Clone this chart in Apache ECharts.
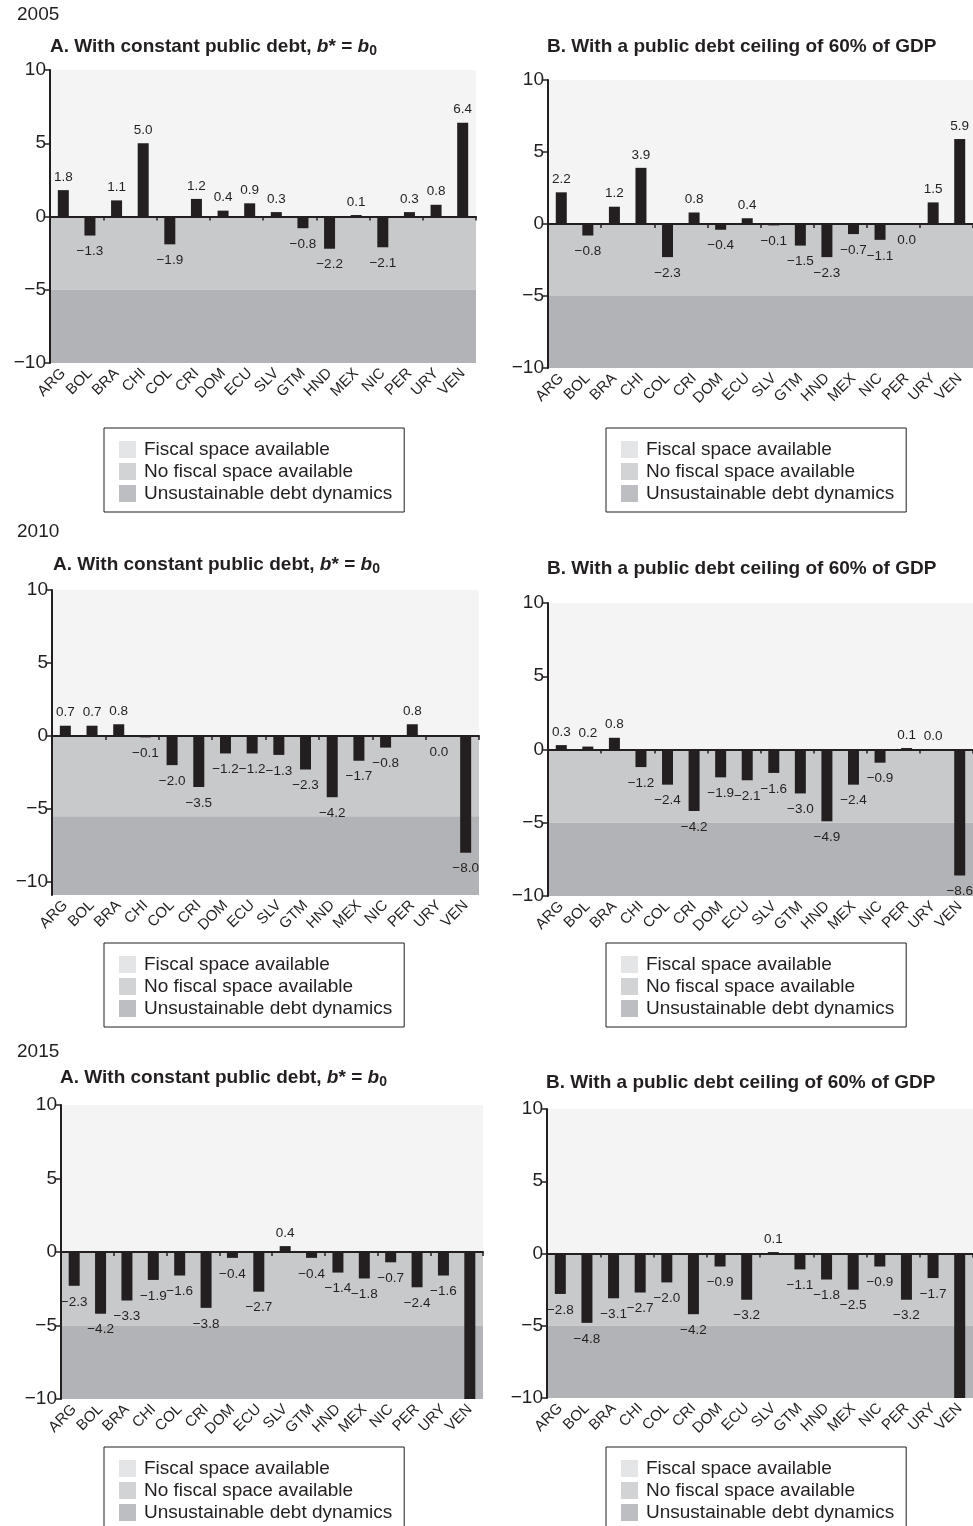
<!DOCTYPE html>
<html><head><meta charset="utf-8">
<script src="https://cdn.jsdelivr.net/npm/echarts@6/dist/echarts.min.js"></script>
<style>html,body{margin:0;padding:0;background:#fff}#c{width:973px;height:1526px}</style>
</head><body><div id="c"></div>
<script>
// ---------- DATA ----------
const countries = ['ARG','BOL','BRA','CHI','COL','CRI','DOM','ECU','SLV','GTM','HND','MEX','NIC','PER','URY','VEN'];
const years = ['2005','2010','2015'];
const yTickValues = [-10, -5, 0, 5, 10];
const bandNames = ['Fiscal space available','No fiscal space available','Unsustainable debt dynamics'];
// -0 marks a "0.0" whose label sits below the axis in the source
const v2005A = [1.8,-1.3,1.1,5.0,-1.9,1.2,0.4,0.9,0.3,-0.8,-2.2,0.1,-2.1,0.3,0.8,6.4];
const v2005B = [2.2,-0.8,1.2,3.9,-2.3,0.8,-0.4,0.4,-0.1,-1.5,-2.3,-0.7,-1.1,-0,1.5,5.9];
const v2010A = [0.7,0.7,0.8,-0.1,-2.0,-3.5,-1.2,-1.2,-1.3,-2.3,-4.2,-1.7,-0.8,0.8,-0,-8.0];
const v2010B = [0.3,0.2,0.8,-1.2,-2.4,-4.2,-1.9,-2.1,-1.6,-3.0,-4.9,-2.4,-0.9,0.1,0.0,-8.6];
const v2015A = [-2.3,-4.2,-3.3,-1.9,-1.6,-3.8,-0.4,-2.7,0.4,-0.4,-1.4,-1.8,-0.7,-2.4,-1.6,-10];
const v2015B = [-2.8,-4.8,-3.1,-2.7,-2.0,-4.2,-0.9,-3.2,0.1,-1.1,-1.8,-2.5,-0.9,-3.2,-1.7,-10];
// zone boundaries (upper limit of the "unsustainable" zone) and axis minimum per panel
const unsustainableLimit = [-5, -5, -5.5, -5, -5, -5];
const axisMin = [-10, -10, -10.9, -10, -10, -10];
const axisMax = 10;

// ---------- STYLE / LAYOUT ----------
const FONT = '"Liberation Sans", Arial, Helvetica, sans-serif';
const INK = '#231f20';
const bandColors = ['#f3f4f3', '#c8c9cb', '#b2b3b6'];
const legendColors = ['#dddee0', '#c7c8ca', '#adaeb1'];
const titleA = 'A. With constant public debt, {it|b}* = {it|b}{sub|0}';
const titleB = 'B. With a public debt ceiling of 60% of GDP';

const panels = [
  {vals: v2005A, title: titleA, grid: {left: 50, top: 70, width: 426, height: 293}, tx: 50, ty: 36, lx: 104, ly: 428},
  {vals: v2005B, title: titleB, grid: {left: 548, top: 80, width: 425, height: 288}, tx: 547, ty: 36, lx: 606, ly: 428},
  {vals: v2010A, title: titleA, grid: {left: 52, top: 590, width: 427, height: 305}, tx: 53, ty: 554, lx: 104, ly: 943},
  {vals: v2010B, title: titleB, grid: {left: 548, top: 603, width: 425, height: 293}, tx: 547, ty: 558, lx: 606, ly: 943},
  {vals: v2015A, title: titleA, grid: {left: 61, top: 1105, width: 422, height: 294}, tx: 60, ty: 1067, lx: 104, ly: 1447},
  {vals: v2015B, title: titleB, grid: {left: 547, top: 1109, width: 426, height: 289}, tx: 546, ty: 1072, lx: 606, ly: 1447}
];
const yearTops = [5, 522, 1042];

function fmt(v) { const s = v.toFixed(1); return s.charAt(0) === '-' ? '\u2212' + s.slice(1) : s; }
function tickFmt(v) { return v < 0 ? '\u2212' + Math.abs(v) : String(v); }

const option = {
  animation: false,
  backgroundColor: '#fff',
  textStyle: {fontFamily: FONT},
  title: [], grid: [], xAxis: [], yAxis: [], series: [], legend: []
};

years.forEach((y, i) => {
  option.title.push({
    text: y, left: 17, top: yearTops[i], padding: 0,
    textStyle: {fontFamily: FONT, fontSize: 19, fontWeight: 'normal', color: INK}
  });
});

panels.forEach((p, i) => {
  option.title.push({
    text: p.title, left: p.tx, top: p.ty, padding: 0,
    textStyle: {
      fontFamily: FONT, fontSize: 19, fontWeight: 'bold', color: INK, lineHeight: 22,
      rich: {
        it: {fontFamily: FONT, fontSize: 19, fontWeight: 'bold', fontStyle: 'italic', color: INK, lineHeight: 22},
        sub: {fontFamily: FONT, fontSize: 14, fontWeight: 'bold', color: INK, lineHeight: 14, verticalAlign: 'bottom'}
      }
    }
  });
  option.grid.push(Object.assign({containLabel: false, outerBoundsMode: 'none'}, p.grid));
  // x axis drawn on the zero line (line + ticks)
  option.xAxis.push({
    type: 'category', gridIndex: i, data: countries, z: 4,
    axisLine: {onZero: true, lineStyle: {color: INK, width: 2}},
    axisTick: {show: true, length: 4, lineStyle: {color: INK, width: 1.5}},
    axisLabel: {show: false}, splitLine: {show: false}
  });
  // x axis at bottom (labels only)
  option.xAxis.push({
    type: 'category', gridIndex: i, data: countries, position: 'bottom', z: 4,
    axisLine: {show: false, onZero: false}, axisTick: {show: false},
    axisLabel: {rotate: 45, margin: 8, fontSize: 15, color: INK, fontFamily: FONT, interval: 0}
  });
  const yAx = {
    type: 'value', gridIndex: i, min: axisMin[i], max: axisMax, z: 4,
    axisLine: {show: true, lineStyle: {color: INK, width: 2}},
    axisTick: {show: true, length: 5, lineStyle: {color: INK, width: 1.5}},
    axisLabel: {fontSize: 19, color: INK, fontFamily: FONT, margin: 4, formatter: tickFmt},
    splitLine: {show: false}
  };
  if (axisMin[i] % 5 === 0) { yAx.interval = 5; }
  else { yAx.axisLabel.customValues = yTickValues; yAx.axisTick.customValues = yTickValues; }
  option.yAxis.push(yAx);

  const vals = p.vals;
  option.series.push({
    type: 'bar', xAxisIndex: 2 * i, yAxisIndex: i, z: 3,
    barWidth: 11,
    itemStyle: {color: INK},
    data: vals.map(v => {
      const up = (v > 0 || Object.is(v, 0));
      return {value: v, label: {position: up ? 'top' : 'bottom', distance: up ? 6 : 9}};
    }),
    label: {
      show: true, fontSize: 13.5, color: INK, fontFamily: FONT,
      formatter: (prm) => { const v = vals[prm.dataIndex]; return v <= axisMin[i] ? '' : fmt(v); }
    },
    markArea: {
      silent: true,
      label: {show: false},
      data: [
        [{yAxis: 0, itemStyle: {color: bandColors[0]}}, {yAxis: axisMax}],
        [{yAxis: unsustainableLimit[i], itemStyle: {color: bandColors[1]}}, {yAxis: 0}],
        [{yAxis: axisMin[i], itemStyle: {color: bandColors[2]}}, {yAxis: unsustainableLimit[i]}]
      ]
    }
  });

  option.legend.push({
    left: p.lx, top: p.ly, height: 90, orient: 'vertical', selectedMode: false,
    icon: 'rect', itemWidth: 17, itemHeight: 17, itemGap: 3,
    padding: [12, 12, 9, 15],
    borderColor: INK, borderWidth: 1, backgroundColor: '#fff',
    textStyle: {fontSize: 19, color: INK, fontFamily: FONT, padding: [0, 0, 0, 3]},
    data: bandNames.map((n, k) => ({name: n, itemStyle: {color: legendColors[k]}}))
  });
});

// legend-only series (no data, no marks)
bandNames.forEach((n, k) => {
  option.series.push({type: 'scatter', name: n, xAxisIndex: 0, yAxisIndex: 0, data: [], itemStyle: {color: legendColors[k]}});
});

const chart = echarts.init(document.getElementById('c'), null, {renderer: 'canvas'});
chart.setOption(option);
</script>
</body></html>
